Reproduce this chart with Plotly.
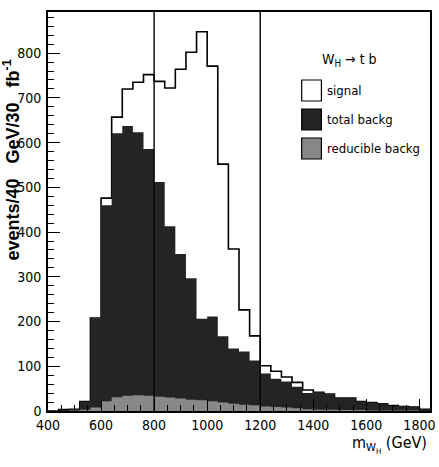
import plotly.graph_objects as go

# ---- data (40 GeV bins) ----
bin_lo = [400, 440, 480, 520, 560, 600, 640, 680, 720, 760, 800, 840, 880, 920, 960,
          1000, 1040, 1080, 1120, 1160, 1200, 1240, 1280, 1320, 1360, 1400, 1440,
          1480, 1520, 1560, 1600, 1640, 1680, 1720, 1760, 1800]
bin_hi_last = 1840
signal_total = [0, 3, 4, 21, 208, 476, 657, 720, 735, 752, 737, 722, 764, 802, 848,
                771, 552, 362, 226, 168, 101, 89, 76, 64, 47, 42, 38,
                29, 29, 21, 19, 16, 12, 10, 9, 4]
total_backg = [0, 3, 4, 21, 206, 460, 621, 637, 623, 586, 512, 413, 351, 297, 206,
               211, 167, 140, 133, 113, 84, 72, 66, 54, 40, 42, 38,
               29, 29, 21, 19, 16, 12, 10, 9, 4]
reducible_backg = [0, 0, 1, 3, 8, 22, 31, 34, 35, 34, 32, 30, 28, 25, 24,
                   22, 19, 16, 14, 13, 10, 9, 8, 6, 4, 3, 3,
                   2, 2, 2, 1, 1, 1, 1, 1, 0]
cut_lines = [800, 1200]
x_ticks = [400, 600, 800, 1000, 1200, 1400, 1600, 1800]
y_ticks = [0, 100, 200, 300, 400, 500, 600, 700, 800]

FONT = "DejaVu Sans Condensed, Liberation Sans Narrow, Arial Narrow, Liberation Sans"


def steps(vals):
    return bin_lo + [bin_hi_last], list(vals) + [vals[-1]]


fig = go.Figure()
xs, ys = steps(signal_total)
fig.add_trace(go.Scatter(x=xs, y=ys, mode="lines", line_shape="hv",
                         line=dict(color="black", width=1.6),
                         fill="tozeroy", fillcolor="white", name="signal",
                         showlegend=False))
xs, ys = steps(total_backg)
fig.add_trace(go.Scatter(x=xs, y=ys, mode="lines", line_shape="hv",
                         line=dict(color="#242424", width=0),
                         fill="tozeroy", fillcolor="#242424", name="total backg",
                         showlegend=False))
xs, ys = steps(reducible_backg)
fig.add_trace(go.Scatter(x=xs, y=ys, mode="lines", line_shape="hv",
                         line=dict(color="#888888", width=0),
                         fill="tozeroy", fillcolor="#888888", name="reducible backg",
                         showlegend=False))

for c in cut_lines:
    fig.add_shape(type="line", xref="x", yref="paper", x0=c, x1=c, y0=0, y1=1,
                  line=dict(color="black", width=1.4), layer="above")

# legend (manual, ROOT style)
W, H = 387.0, 399.0
def px(x):
    return (x - 48) / W
def py(y):
    return (411 - y) / H

legend_items = [("signal", "white", 80, 101),
                ("total backg", "#242424", 109, 130),
                ("reducible backg", "#888888", 138, 159)]
for label, col, yt, yb in legend_items:
    fig.add_shape(type="rect", xref="paper", yref="paper",
                  x0=px(305), x1=px(325), y0=py(yb), y1=py(yt),
                  fillcolor=col, line=dict(color="black", width=1.2), layer="above")
    fig.add_annotation(xref="paper", yref="paper", x=px(329), y=py((yt + yb) / 2),
                       text=label, showarrow=False, xanchor="left", yanchor="middle",
                       font=dict(family=FONT, size=13, color="black"))
fig.add_annotation(xref="paper", yref="paper", x=px(353), y=py(60),
                   text="W<sub>H</sub> \u2192 t b", showarrow=False,
                   xanchor="center", yanchor="middle",
                   font=dict(family=FONT, size=14, color="black"))

# axis titles
fig.add_annotation(xref="paper", yref="paper", x=px(11), y=py(160),
                   text="<b>events/40   GeV/30   fb<sup>-1</sup></b>", textangle=-90,
                   showarrow=False, xanchor="center", yanchor="middle",
                   font=dict(family="Liberation Sans, Arial", size=18, color="black"))
fig.add_annotation(xref="paper", yref="paper", x=px(434), y=py(444),
                   text="m<sub>W<sub>H</sub></sub> (GeV)", showarrow=False,
                   xanchor="right", yanchor="middle",
                   font=dict(family=FONT, size=16, color="black"))

fig.update_xaxes(range=[400, 1840], tickvals=x_ticks, ticks="inside", ticklen=12,
                 tickwidth=1.2, tickcolor="black",
                 minor=dict(dtick=50, tick0=400, ticks="inside", ticklen=6,
                            tickcolor="black", tickwidth=1),
                 showline=True, linecolor="black", linewidth=1.6, mirror=True,
                 showgrid=False, zeroline=False,
                 tickfont=dict(family=FONT, size=14, color="black"),
                 layer="above traces")
fig.update_yaxes(range=[0, 892], tickvals=y_ticks, ticks="inside", ticklen=12,
                 tickwidth=1.2, tickcolor="black",
                 minor=dict(dtick=20, tick0=0, ticks="inside", ticklen=6,
                            tickcolor="black", tickwidth=1),
                 showline=True, linecolor="black", linewidth=1.6, mirror=True,
                 showgrid=False, zeroline=False,
                 tickfont=dict(family=FONT, size=14, color="black"),
                 ticklabelstandoff=2,
                 layer="above traces")

fig.update_layout(width=439, height=467,
                  margin=dict(l=48, r=4, t=12, b=56),
                  paper_bgcolor="white", plot_bgcolor="white",
                  showlegend=False)

fig.write_html("out.html")
